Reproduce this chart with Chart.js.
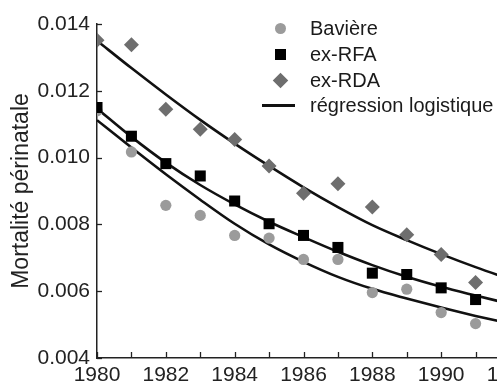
<!DOCTYPE html>
<html>
<head>
<meta charset="utf-8">
<script src="https://cdn.jsdelivr.net/npm/chart.js"></script>
<style>
  html, body { margin: 0; padding: 0; overflow: hidden; background: #fff; width: 497px; height: 383px; }
  #wrap { position: absolute; left: 0; top: 0; width: 540px; height: 392px; }
  #legend { position: absolute; left: 0; top: 0; font-family: 'Liberation Sans', Arial, sans-serif; font-size: 20px; color: #1a1a1a; }
  .txt { position: absolute; left: 310px; height: 26px; line-height: 26px; white-space: nowrap; }
  .mk { position: absolute; }
</style>
</head>
<body>
<div id="wrap"><canvas id="chart" width="540" height="392"></canvas></div>
<div id="legend"></div>
<script>
// années des mesures
const years = [1980, 1981, 1982, 1983, 1984, 1985, 1986, 1987, 1988, 1989, 1990, 1991]
// mortalité périnatale
const baviere = [0.0114, 0.01017, 0.00857, 0.00827, 0.00767, 0.00759, 0.00695, 0.00695, 0.00596, 0.00606, 0.00536, 0.00503]
const exRFA = [0.0115, 0.01064, 0.00982, 0.00945, 0.0087, 0.00802, 0.00767, 0.00731, 0.00654, 0.0065, 0.0061, 0.00575]
const exRDA = [0.01351, 0.01338, 0.01145, 0.01085, 0.01054, 0.00975, 0.00893, 0.00922, 0.00852, 0.00769, 0.0071, 0.00626]

// courbes de régression logistique (lues aussi sur le graphique)
const regYears = [1980, 1981, 1982, 1983, 1984, 1985, 1986, 1987, 1988, 1989, 1990, 1991, 1992]
const regBaviere = [0.01112, 0.0103, 0.0095, 0.00874, 0.00802, 0.0074, 0.00688, 0.00643, 0.00607, 0.00578, 0.00551, 0.00526, 0.00503]
const regRFA = [0.01147, 0.01062, 0.00985, 0.00918, 0.0086, 0.00808, 0.00762, 0.00718, 0.00678, 0.00643, 0.00613, 0.00587, 0.00562]
const regRDA = [0.0135, 0.01268, 0.01189, 0.01113, 0.01042, 0.00975, 0.00911, 0.00852, 0.00798, 0.00753, 0.00711, 0.00672, 0.00636]

const labels = ['Bavière', 'ex-RFA', 'ex-RDA', 'régression logistique']
const yTicks = [0.004, 0.006, 0.008, 0.010, 0.012, 0.014]

const fontFam = "'Liberation Sans', Arial, sans-serif"
const pts = (xs, ys) => xs.map((x, i) => ({x: x, y: ys[i]}))

// petits traits vers l'intérieur sur les deux axes
const innerTicks = {
  id: 'innerTicks',
  afterDatasetsDraw(chart) {
    const {ctx, chartArea, scales} = chart
    ctx.save()
    ctx.strokeStyle = '#222'
    ctx.lineWidth = 1.3
    scales.x.ticks.forEach(t => {
      const px = Math.round(scales.x.getPixelForValue(t.value)) + 0.5
      ctx.beginPath()
      ctx.moveTo(px, chartArea.bottom)
      ctx.lineTo(px, chartArea.bottom - 6)
      ctx.stroke()
    })
    scales.y.ticks.forEach(t => {
      const py = Math.round(scales.y.getPixelForValue(t.value)) + 0.5
      ctx.beginPath()
      ctx.moveTo(chartArea.left, py)
      ctx.lineTo(chartArea.left + 5, py)
      ctx.stroke()
    })
    ctx.restore()
  }
}

const regLine = (data) => ({
  type: 'scatter',
  data: pts(regYears, data),
  showLine: true,
  borderColor: '#111',
  borderWidth: 2.6,
  pointRadius: 0,
  cubicInterpolationMode: 'monotone',
  order: 10
})

new Chart(document.getElementById('chart'), {
  type: 'scatter',
  data: {
    datasets: [
      {label: labels[1], data: pts(years, exRFA), pointStyle: 'rect', pointRadius: 7.8, backgroundColor: '#000', borderWidth: 0, order: 1},
      {label: labels[2], data: pts(years, exRDA), pointStyle: 'rectRot', pointRadius: 7.5, backgroundColor: '#6e6e6e', borderWidth: 0, order: 2},
      {label: labels[0], data: pts(years, baviere), pointStyle: 'circle', pointRadius: 5.6, backgroundColor: '#9b9b9b', borderWidth: 0, order: 3},
      regLine(regRDA),
      regLine(regRFA),
      regLine(regBaviere)
    ]
  },
  options: {
    responsive: false,
    animation: false,
    layout: {padding: {left: 0, top: 24, right: 30, bottom: 0}},
    plugins: {legend: {display: false}, tooltip: {enabled: false}},
    scales: {
      x: {
        type: 'linear',
        min: 1980,
        max: 1992,
        grid: {display: true, drawOnChartArea: false, drawTicks: false},
        border: {display: true, color: '#222', width: 1.5},
        ticks: {
          stepSize: 1,
          padding: 5,
          autoSkip: false,
          maxRotation: 0,
          minRotation: 0,
          color: '#222',
          font: {family: fontFam, size: 21},
          callback: v => (v % 2 === 0 ? String(v) : '')
        },
        afterFit: s => { s.height = 34 }
      },
      y: {
        min: 0.004,
        max: 0.014,
        afterBuildTicks: s => { s.ticks = yTicks.map(v => ({value: v})) },
        grid: {display: true, drawOnChartArea: false, drawTicks: false},
        border: {display: true, color: '#222', width: 1.5},
        ticks: {
          padding: 7,
          color: '#222',
          font: {family: fontFam, size: 21},
          callback: v => v.toFixed(3)
        },
        title: {
          display: true,
          text: 'Mortalité périnatale',
          color: '#222',
          font: {family: fontFam, size: 23},
          padding: {top: 8, bottom: 0}
        },
        afterFit: s => { s.width = 97 }
      }
    }
  },
  plugins: [innerTicks]
})

// légende en haut à droite
const legend = document.getElementById('legend')
const rows = [28, 54, 80, 105]
const markers = [
  'left:274.5px;width:11px;height:11px;border-radius:50%;background:#9b9b9b;',
  'left:274.5px;width:11px;height:11px;background:#000;',
  'left:274.5px;width:11px;height:11px;background:#6e6e6e;transform:rotate(45deg);',
  'left:262px;width:33px;height:3px;background:#111;'
]
labels.forEach((txt, i) => {
  const m = document.createElement('div')
  m.className = 'mk'
  const h = i === 3 ? 3 : 11
  m.style.cssText = markers[i] + 'top:' + (rows[i] - h / 2) + 'px;'
  legend.appendChild(m)
  const t = document.createElement('div')
  t.className = 'txt'
  t.style.top = (rows[i] - 13) + 'px'
  t.textContent = txt
  legend.appendChild(t)
})
</script>
</body>
</html>
